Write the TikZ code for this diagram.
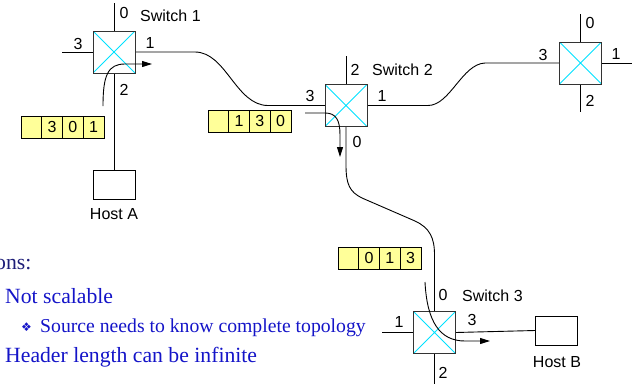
\documentclass[tikz,border=0pt]{standalone}
\usepackage{fontspec}
\setmainfont{Liberation Sans}
\newfontfamily\seriffont{Liberation Serif}
\newfontfamily\dejavu{DejaVu Sans}
\usetikzlibrary{arrows.meta,positioning}
\definecolor{hdryellow}{RGB}{255,255,153}
\definecolor{xcyan}{RGB}{0,225,255}
\definecolor{txtblue}{RGB}{20,20,200}
\definecolor{navy}{RGB}{30,30,120}
\tikzset{
  switchbox/.style={draw=black!80, fill=white, line width=0.9pt, minimum width=42pt, minimum height=42pt, inner sep=0pt, outer sep=0pt,
    path picture={\draw[xcyan, line width=0.8pt] (path picture bounding box.north west) -- (path picture bounding box.south east)
      (path picture bounding box.north east) -- (path picture bounding box.south west);}},
  hostbox/.style={draw=black, fill=white, line width=0.9pt, minimum width=42pt, minimum height=29pt, inner sep=0pt, outer sep=0pt},
  cell/.style={draw=black, fill=hdryellow, line width=0.9pt, minimum width=20.75pt, minimum height=22pt, inner sep=0pt, outer sep=0pt, font=\fontsize{16}{16}\selectfont},
  lbl/.style={inner sep=0pt, font=\fontsize{16}{16}\selectfont},
  wire/.style={line width=0.9pt, black},
  route/.style={line width=0.9pt, black, -{Triangle[length=10pt,width=6pt]}},
  bodytext/.style={inner sep=0pt, anchor=base west, text=txtblue, font=\seriffont\fontsize{21.7}{22}\selectfont}
}
\begin{document}
\begin{tikzpicture}[x=1pt,y=-1pt]
\useasboundingbox (0,0) rectangle (632,384);
% switches
\node[switchbox] (s1) at (114,52) {};
\node[switchbox] (s2) at (346,105.5) {};
\node[switchbox] (s4) at (580.5,63) {};
\node[switchbox] (s3) at (434.5,332.5) {};
\node[hostbox] (hA) at (114,184.5) {};
\node[hostbox] (hB) at (556,330.5) {};
\node[lbl] (hAl) at (114,214) {Host A};
\node[lbl] (hBl) at (557,362) {Host B};
% free ends
\coordinate (s1t) at (114,3);
\coordinate (s1l) at (62,52);
\coordinate (s2t) at (346,56);
\coordinate (s4t) at (580.5,14);
\coordinate (s4r) at (632,63);
\coordinate (s4b) at (580.5,112);
\coordinate (s3l) at (382,332.5);
\coordinate (s3b) at (434.5,384);
% port lines
\draw[wire] (s1.north) -- (s1t);
\draw[wire] (s1.west) -- (s1l);
\draw[wire] (s1.south) -- (hA.north);
\draw[wire] (s2.north) -- (s2t);
\draw[wire] (s4.north) -- (s4t);
\draw[wire] (s4.east) -- (s4r);
\draw[wire] (s4.south) -- (s4b);
\draw[wire] (s3.west) -- (s3l);
\draw[wire] (s3.south) -- (s3b);
\draw[wire] (s3.east) -- (hB.west);
% links
\draw[wire] (s1.east) -- (195,52) .. controls (226,52) and (236,105.5) .. (268,105.5) -- (s2.west);
\draw[wire] (s2.east) -- (428,105.5) .. controls (450,105.5) and (462,64) .. (485,63) -- (s4.west);
\draw[wire] (s2.south) -- (346,165) .. controls (346,185) and (350,192) .. (362,198) -- (415,221) .. controls (430,228) and (434.5,238) .. (434.5,255) -- (s3.north);
% redraw switches above lines
\node[switchbox] at (s1) {};
\node[switchbox] at (s2) {};
\node[switchbox] at (s4) {};
\node[switchbox] at (s3) {};
% port labels
\node[lbl] at (124,13) {0};
\node[lbl, anchor=west] at (140,16) {Switch 1};
\node[lbl] at (78,44) {3};
\node[lbl] at (150,43) {1};
\node[lbl] at (124,90) {2};
\node[lbl] at (355,70) {2};
\node[lbl, anchor=west] at (372,70) {Switch 2};
\node[lbl] at (310,96) {3};
\node[lbl] at (382,96) {1};
\node[lbl] at (357,142) {0};
\node[lbl] at (590,23) {0};
\node[lbl] at (543,55) {3};
\node[lbl] at (616,54) {1};
\node[lbl] at (590,101) {2};
\node[lbl] at (443,295) {0};
\node[lbl, anchor=west] at (462,296) {Switch 3};
\node[lbl] at (399,322) {1};
\node[lbl] at (472,320) {3};
\node[lbl] at (443,373) {2};
% headers
\node[cell] (a1) at (31.4,127) {};
\node[cell, right=0pt of a1] (a2) {3};
\node[cell, right=0pt of a2] (a3) {0};
\node[cell, right=0pt of a3] (a4) {1};
\node[cell] (b1) at (218.4,121) {};
\node[cell, right=0pt of b1] (b2) {1};
\node[cell, right=0pt of b2] (b3) {3};
\node[cell, right=0pt of b3] (b4) {0};
\node[cell] (c1) at (348.4,258) {};
\node[cell, right=0pt of c1] (c2) {0};
\node[cell, right=0pt of c2] (c3) {1};
\node[cell, right=0pt of c3] (c4) {3};
% routes
\coordinate (r1s) at (103,106);
\coordinate (r1e) at (152,64);
\draw[route] (r1s) .. controls (103,75) and (108,64) .. (125,64) -- (r1e);
\coordinate (r2s) at (305,113);
\coordinate (r2e) at (340,157);
\draw[route] (r2s) -- (325,113) .. controls (336,113) and (340,120) .. (340,135) -- (r2e);
\coordinate (r3s) at (425,282);
\coordinate (r3e) at (490,341);
\draw[route] (r3s) .. controls (427,322) and (440,341) .. (465,341) -- (r3e);
% text
\node[bodytext, text=navy] (t0) at (-5,269) {ons:};
\node[bodytext] (t1) at (5,303) {Not scalable};
\node[inner sep=0pt, anchor=base west, text=txtblue, font=\dejavu\fontsize{12}{12}\selectfont] (t2b) at (21,331) {❖};
\node[inner sep=0pt, anchor=base west, text=txtblue, font=\seriffont\fontsize{19.7}{20}\selectfont] (t2) at (40,332) {Source needs to know complete topology};
\node[bodytext] (t3) at (5,362) {Header length can be infinite};
\end{tikzpicture}
\end{document}
